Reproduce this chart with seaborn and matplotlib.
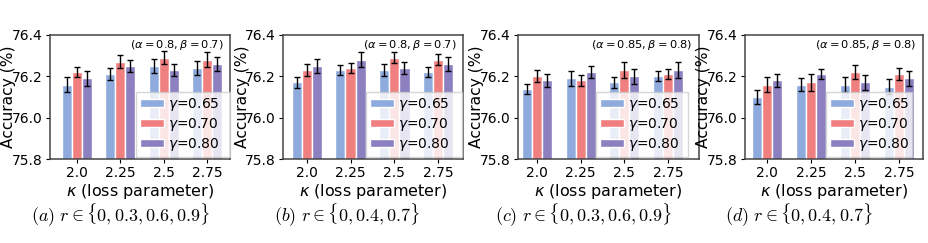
import matplotlib
matplotlib.use("Agg")
import pandas as pd
import matplotlib.pyplot as plt
import seaborn as sns

# categories
kappas = ["2.0", "2.25", "2.5", "2.75"]
gammas = [r"$\gamma$=0.65", r"$\gamma$=0.70", r"$\gamma$=0.80"]
colors = ["#8faadc", "#f08080", "#8c80c0"]

# mean accuracy (rows: gamma, columns: kappa) and error bar half-lengths
acc_a = [[76.16, 76.21, 76.25, 76.24],
         [76.22, 76.27, 76.29, 76.28],
         [76.19, 76.25, 76.23, 76.26]]
err_a = [[0.035, 0.03, 0.035, 0.035],
         [0.025, 0.03, 0.03, 0.035],
         [0.035, 0.03, 0.03, 0.035]]

acc_b = [[76.17, 76.23, 76.23, 76.22],
         [76.23, 76.24, 76.29, 76.28],
         [76.25, 76.28, 76.24, 76.26]]
err_b = [[0.025, 0.025, 0.03, 0.025],
         [0.03, 0.025, 0.025, 0.025],
         [0.035, 0.035, 0.03, 0.035]]

acc_c = [[76.14, 76.19, 76.17, 76.20],
         [76.20, 76.18, 76.23, 76.21],
         [76.18, 76.22, 76.20, 76.23]]
err_c = [[0.025, 0.035, 0.025, 0.025],
         [0.03, 0.025, 0.04, 0.025],
         [0.03, 0.03, 0.035, 0.04]]

acc_d = [[76.10, 76.16, 76.16, 76.15],
         [76.16, 76.17, 76.22, 76.21],
         [76.18, 76.21, 76.17, 76.19]]
err_d = [[0.035, 0.03, 0.035, 0.035],
         [0.035, 0.04, 0.035, 0.03],
         [0.03, 0.025, 0.035, 0.035]]

params = [r"$(\alpha = 0.8, \beta = 0.7)$", r"$(\alpha = 0.8, \beta = 0.7)$",
          r"$(\alpha = 0.85, \beta = 0.8)$", r"$(\alpha = 0.85, \beta = 0.8)$"]
captions = [r"$\mathit{(a)}\ r \in \{0, 0.3, 0.6, 0.9\}$",
            r"$\mathit{(b)}\ r \in \{0, 0.4, 0.7\}$",
            r"$\mathit{(c)}\ r \in \{0, 0.3, 0.6, 0.9\}$",
            r"$\mathit{(d)}\ r \in \{0, 0.4, 0.7\}$"]

panels = [(acc_a, err_a), (acc_b, err_b), (acc_c, err_c), (acc_d, err_d)]

# layout (pixels in a 929x243 figure)
W, H = 929, 243
spans = [(50, 230), (283, 463), (518, 699), (745, 923)]
xlims = [(-0.61, 3.52), (-0.54, 3.565), (-0.435, 3.71), (-0.51, 3.55)]
leg_x = [(136, 230), (366, 462), (596, 688), (826, 912)]
cap_x = [121, 347, 584, 799]
top, bottom = 34.7, 159.3

fig = plt.figure(figsize=(W / 100, H / 100), dpi=100)

for i, (acc, err) in enumerate(panels):
    l, r = spans[i]
    wpx = r - l
    ax = fig.add_axes([l / W, (H - bottom) / H, wpx / W, (bottom - top) / H])

    df = pd.DataFrame({
        "kappa": [k for g in gammas for k in kappas],
        "gamma": [g for g in gammas for k in kappas],
        "acc": [v for row in acc for v in row],
        "err": [v for row in err for v in row],
    })

    sns.barplot(data=df, x="kappa", y="acc", hue="gamma", order=kappas,
                hue_order=gammas, palette=colors, width=0.69, errorbar=None,
                edgecolor="white", linewidth=1, saturation=1, ax=ax)

    # error bars at bar centers
    bars = list(ax.containers)
    for j, cont in enumerate(bars):
        xs = [p.get_x() + p.get_width() / 2 for p in cont.patches]
        ax.errorbar(xs, acc[j], yerr=err[j], fmt="none", ecolor="black",
                    elinewidth=1, capsize=2, capthick=1)

    ax.set_ylim(75.8, 76.4)
    ax.set_yticks([75.8, 76.0, 76.2, 76.4])
    ax.set_yticklabels(["75.8", "76.0", "76.2", "76.4"])
    ax.set_xlim(*xlims[i])
    ax.tick_params(labelsize=10, length=3, pad=2)
    ax.set_xlabel(r"$\kappa$ (loss parameter)", fontsize=11.5, labelpad=1)
    ax.set_ylabel("Accuracy (%)", fontsize=11.2)
    ax.yaxis.set_label_coords(-33.5 / wpx, 0.5)
    for s in ax.spines.values():
        s.set_color("#444444")
        s.set_linewidth(1.1)

    ax.text(0.965, 0.92, params[i], transform=ax.transAxes, ha="right",
            va="center", fontsize=8.2)

    old = ax.get_legend()
    handles = old.legend_handles
    labels = [t.get_text() for t in old.get_texts()]
    old.remove()
    x0 = (leg_x[i][0] - l) / wpx
    x1 = (leg_x[i][1] - l) / wpx
    ax.legend(handles, labels, loc="lower left", mode="expand",
              bbox_to_anchor=(x0, 2 / 124.6, x1 - x0, 0.3),
              borderaxespad=0, fontsize=10, handlelength=1.7,
              handleheight=0.5, handletextpad=0.3, labelspacing=0.22,
              borderpad=0.3, framealpha=0.8, fancybox=False,
              edgecolor="#cccccc")

    fig.text(cap_x[i] / W, (H - 215) / H, captions[i], ha="center",
             va="center", fontsize=13, math_fontfamily="cm")

fig.savefig("out.png", dpi=100)
